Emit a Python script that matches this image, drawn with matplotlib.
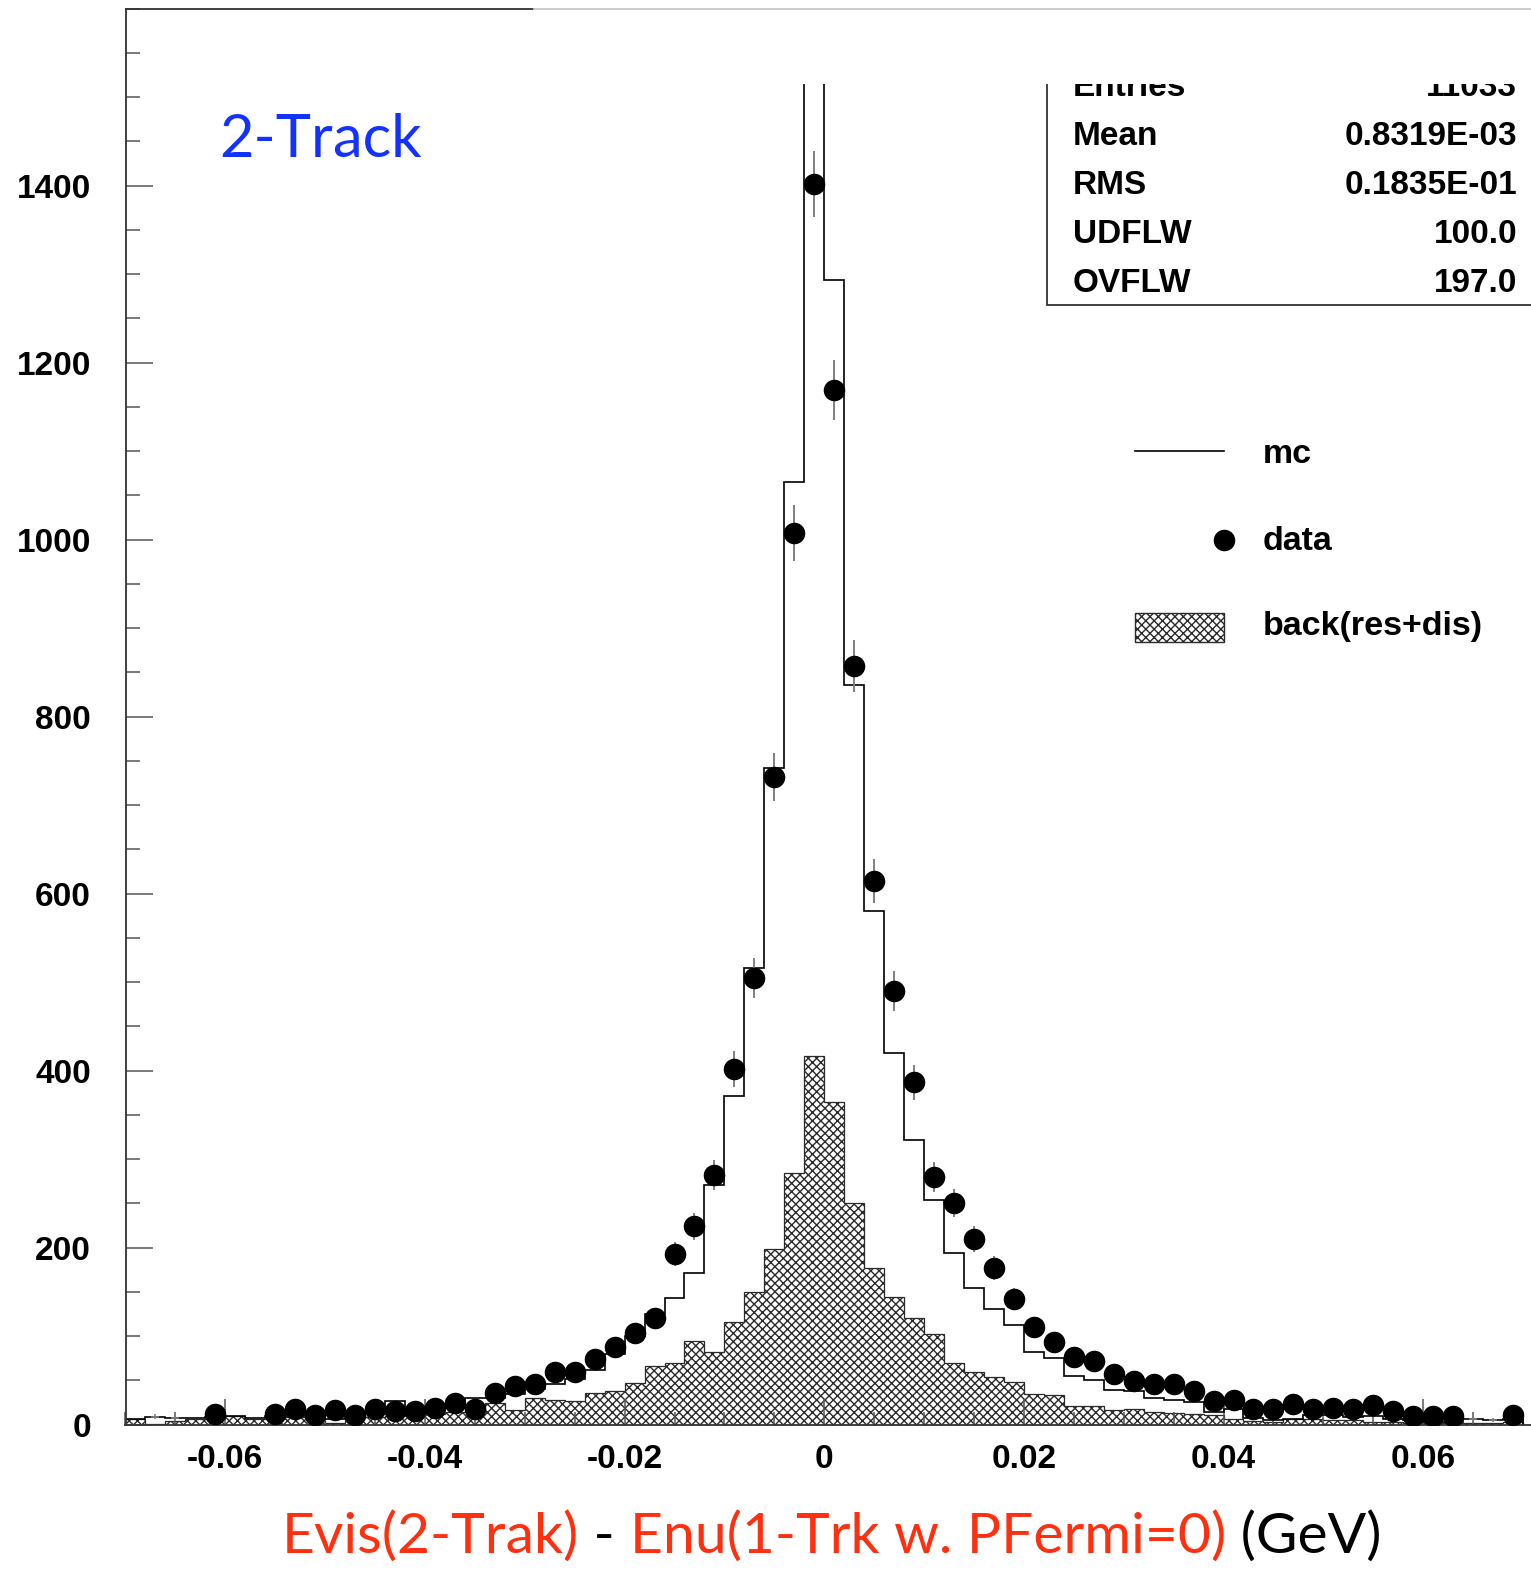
import numpy as np
import matplotlib.pyplot as plt
from matplotlib.lines import Line2D
from matplotlib.patches import Rectangle
from matplotlib.ticker import FixedLocator, MultipleLocator, FuncFormatter

plt.rcParams['font.family'] = ['Liberation Sans', 'DejaVu Sans']
plt.rcParams['font.weight'] = 'bold'
plt.rcParams['axes.unicode_minus'] = False
plt.rcParams['hatch.linewidth'] = 1.0

# 70 bins of 0.002 GeV from -0.07 to 0.07
edges = np.round(np.linspace(-0.07, 0.07, 71), 4)
centers = 0.5 * (edges[:-1] + edges[1:])

mc = [6, 9, 8, 8, 9, 10, 8, 10, 10, 10,
      6, 10, 14, 27, 18, 19, 22, 30, 30, 35,
      40, 46, 52, 62, 80, 100, 125, 143, 171, 271,
      371, 516, 742, 1065, 1800, 1293, 836, 580, 420, 322,
      254, 194, 155, 131, 113, 82, 75, 55, 50, 39,
      38, 30, 28, 26, 14, 18, 8, 5, 7, 11,
      11, 9, 10, 7, 5, 3, 3, 6, 5, 6]

back = [6, 1, 4, 7, 6, 10, 7, 6, 9, 8,
        2, 8, 9, 10, 12, 12, 14, 16, 25, 17,
        30, 28, 27, 36, 38, 47, 66, 70, 94, 82,
        116, 150, 199, 284, 417, 365, 251, 177, 144, 120,
        103, 70, 59, 54, 48, 35, 33, 21, 21, 17,
        18, 14, 13, 12, 11, 7, 4, 3, 6, 7,
        5, 5, 3, 3, 2, 2, 1.5, 2, 2, 3]

nan = np.nan
data = [nan, nan, nan, nan, 12, nan, nan, 12, 18, 11,
        17, 11, 18, 15, 16, 19, 25, 18, 36, 44,
        46, 60, 59, 74, 88, 104, 121, 193, 224, 282,
        402, 505, 732, 1007, 1402, 1169, 857, 614, 490, 387,
        280, 251, 210, 177, 142, 110, 93, 76, 72, 57,
        49, 46, 46, 38, 27, 28, 18, 18, 23, 18,
        19, 18, 22, 16, 10, 10, 10, nan, nan, 11]

# low bins shown only by their error bars
bare_bins = [1, 2, 67, 68]
bare_vals = [9, 8, 6, 5]

stat_names = ['Entries', 'Mean', 'RMS', 'UDFLW', 'OVFLW']
stat_vals = ['11033', '0.8319E-03', '0.1835E-01', '100.0', '197.0']

W, H = 1531, 1574


def fx(x):
    return x / W


def fy(y):
    return 1 - y / H


fig = plt.figure(figsize=(W / 100, H / 100), dpi=100)
ax = fig.add_axes([fx(125.5), fy(1424.7), (W - 125.5) / W, (1424.7 - 8.5) / H])

ax.stairs(back, edges, fill=True, facecolor='white', edgecolor='#2a2a2a',
          hatch='xxxx', lw=0.9, zorder=1)
ax.stairs(mc, edges, color='black', lw=1.2, zorder=2)

data = np.array(data, dtype=float)
ax.errorbar(centers, data, yerr=np.sqrt(data), fmt='o', ms=14.5,
            mfc='black', mec='black', ecolor='#808080', elinewidth=1.4,
            capsize=0, zorder=4)
bare_vals = np.array(bare_vals, dtype=float)
ax.errorbar(centers[bare_bins], bare_vals, yerr=np.sqrt(bare_vals),
            xerr=0.0004, fmt='none', ecolor='#808080', elinewidth=1.2,
            capsize=0, zorder=4)

ax.set_xlim(-0.07, -0.07 + (W - 125.5) / 9982)
ax.set_ylim(0, 1600)

ax.xaxis.set_major_locator(FixedLocator([-0.06, -0.04, -0.02, 0, 0.02, 0.04, 0.06]))
ax.xaxis.set_minor_locator(MultipleLocator(0.005))
ax.xaxis.set_major_formatter(FuncFormatter(lambda v, p: '0' if abs(v) < 1e-9 else f'{v:.2f}'))
ax.yaxis.set_major_locator(FixedLocator(range(0, 1401, 200)))
ax.yaxis.set_minor_locator(MultipleLocator(50))

ax.tick_params(which='both', direction='in', color='#555555', width=1.1,
               labelsize=24)
ax.tick_params(axis='y', which='major', length=19.5, pad=25)
ax.tick_params(axis='y', which='minor', length=10)
ax.tick_params(axis='x', which='major', length=19, pad=14)
ax.tick_params(axis='x', which='minor', length=9.5)
ax.tick_params(top=False, right=False)

for s in ['top', 'right']:
    ax.spines[s].set_visible(False)
for s in ['left', 'bottom']:
    ax.spines[s].set_color('#333333')
    ax.spines[s].set_linewidth(1.3)

# frame line along the top
fig.add_artist(Line2D([fx(125.5), fx(534)], [fy(8.5)] * 2, color='#333333', lw=1.3))

# statistics box
fig.add_artist(Rectangle((fx(1046.7), fy(305)), (W + 50 - 1046.7) / W, (305 - 40) / H,
                         transform=fig.transFigure, facecolor='white',
                         edgecolor='#333333', lw=1.3, zorder=5))
for k, (name, val) in enumerate(zip(stat_names, stat_vals)):
    yb = 96 + 49 * k
    fig.text(fx(1072.7), fy(yb), name, fontsize=24, va='baseline', ha='left', zorder=6)
    fig.text(fx(1517), fy(yb), val, fontsize=24, va='baseline', ha='right', zorder=6)

# white band across the top right
fig.add_artist(Rectangle((fx(534), fy(84)), (W - 534) / W, (84 - 9.3) / H,
                         transform=fig.transFigure, facecolor='white',
                         edgecolor='none', zorder=10))
fig.add_artist(Line2D([fx(534), 1], [fy(8.5)] * 2, color='#c8c8c8', lw=1.3, zorder=11))

# legend
fig.add_artist(Line2D([fx(1135), fx(1224)], [fy(451)] * 2, color='black', lw=1.2))
fig.add_artist(Line2D([fx(1224)], [fy(540)], marker='o', ms=14.5, color='black', lw=0))
fig.add_artist(Rectangle((fx(1135), fy(642)), (1224 - 1135) / W, (642 - 613) / H,
                         transform=fig.transFigure, facecolor='white',
                         edgecolor='#2a2a2a', hatch='xxxx', lw=1.0))
for txt, yb in [('mc', 463), ('data', 550), ('back(res+dis)', 635)]:
    fig.text(fx(1263), fy(yb), txt, fontsize=24.5, va='baseline', ha='left')

fig.text(fx(219), fy(157), '2-Track', color='#1432ff', fontsize=43,
         family='Lato', weight='normal', va='baseline')

red = '#ff3010'
parts = [('Evis(2-Trak)', red), (' - ', 'black'),
         ('Enu(1-Trk w. PFermi=0)', red), (' (GeV)', 'black')]
t = fig.text(fx(282), fy(1553), parts[0][0], color=parts[0][1], fontsize=41,
             family='Lato', weight='normal', va='baseline')
for s, c in parts[1:]:
    t = ax.annotate(s, xy=(1, 0), xycoords=t, va='bottom', ha='left',
                    color=c, fontsize=41, family='Lato', weight='normal',
                    annotation_clip=False)

fig.savefig('out.png', dpi=100)
